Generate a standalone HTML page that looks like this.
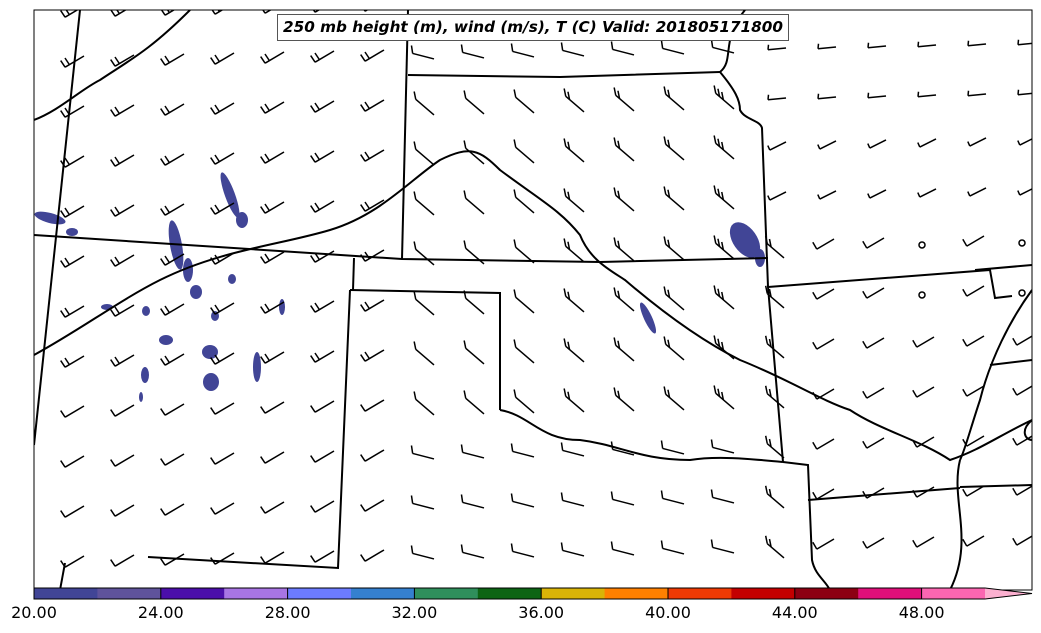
<!DOCTYPE html>
<html><head><meta charset="utf-8"><style>
html,body{margin:0;padding:0;background:#fff;width:1041px;height:633px;overflow:hidden}
svg{display:block}
text{font-family:"DejaVu Sans","Liberation Sans",sans-serif}
</style></head><body>
<svg id="s" width="1041" height="633" xmlns="http://www.w3.org/2000/svg">
<defs><clipPath id="c"><rect x="34" y="10" width="998" height="580"/></clipPath></defs>
<rect x="0" y="0" width="1041" height="633" fill="#fff"/>
<g clip-path="url(#c)" fill="#414596">
<ellipse cx="745" cy="240" rx="12" ry="20" transform="rotate(-35 745 240)"/>
<ellipse cx="760" cy="258" rx="5" ry="9"/>
<ellipse cx="648" cy="318" rx="4" ry="17" transform="rotate(-25 648 318)"/>
<ellipse cx="176" cy="245" rx="6" ry="25" transform="rotate(-10 176 245)"/>
<ellipse cx="188" cy="270" rx="5" ry="12"/>
<ellipse cx="196" cy="292" rx="6" ry="7"/>
<ellipse cx="230" cy="195" rx="5" ry="24" transform="rotate(-20 230 195)"/>
<ellipse cx="242" cy="220" rx="6" ry="8"/>
<ellipse cx="50" cy="218" rx="16" ry="5" transform="rotate(15 50 218)"/>
<ellipse cx="72" cy="232" rx="6" ry="4"/>
<ellipse cx="166" cy="340" rx="7" ry="5"/>
<ellipse cx="146" cy="311" rx="4" ry="5"/>
<ellipse cx="107" cy="307" rx="6" ry="3"/>
<ellipse cx="211" cy="382" rx="8" ry="9"/>
<ellipse cx="210" cy="352" rx="8" ry="7"/>
<ellipse cx="145" cy="375" rx="4" ry="8"/>
<ellipse cx="257" cy="367" rx="4" ry="15"/>
<ellipse cx="282" cy="307" rx="3" ry="8"/>
<ellipse cx="215" cy="316" rx="4" ry="5"/>
<ellipse cx="232" cy="279" rx="4" ry="5"/>
<ellipse cx="141" cy="397" rx="2" ry="5"/>
</g>
<g clip-path="url(#c)" fill="none" stroke="#000" stroke-width="2">
<path d="M80,10 L34,445"/>
<path d="M408,10 L402,259"/>
<path d="M34,235 L402,259 L600,262 L768,258"/>
<path d="M408,75 L560,77 L720,72"/>
<path d="M720,72 C735,90 740,100 740,110 C745,120 760,120 762,128 L768,287 L783,462"/>
<path d="M745,10 C720,40 735,60 720,72"/>
<path d="M768,287 L990,270 L995,298 L1012,296"/>
<path d="M354,258 L353,290"/>
<path d="M350,290 L500,293 L500,410"/>
<path d="M350,290 L338,568 L148,557"/>
<path d="M65,563 L60,590"/>
<path d="M500,410 C530,415 540,440 580,440 C620,445 640,460 690,460 C720,455 760,460 783,462"/>
<path d="M783,462 L808,465 L812,560 C815,575 825,580 830,590"/>
<path d="M808,500 L960,488"/>
<path d="M960,487 L1032,485"/>
<path d="M975,270 L1032,265"/>
<path d="M34,120 C60,110 80,90 100,80 C130,60 150,50 190,10"/>
<path d="M34,355 C80,330 120,300 160,280 C220,250 280,245 330,230 C380,215 410,180 440,160 C470,145 480,150 500,170 C540,200 560,210 580,235 C590,260 610,270 625,280 C660,310 700,340 740,360 C790,380 820,400 850,410 C880,430 920,440 950,460 C980,450 1000,435 1032,420"/>
<path d="M960,460 C950,500 975,540 950,590"/>
<path d="M1032,290 C1010,320 990,360 980,400 C970,430 965,450 960,460"/>
<path d="M1032,360 L990,365"/>
<path d="M1032,420 C1020,430 1025,440 1032,440"/>
</g>
<g id="barbs" clip-path="url(#c)" stroke="#000" stroke-width="1.5" fill="none"></g>
<rect x="34" y="10" width="998" height="580" fill="none" stroke="#000" stroke-width="1"/>
<rect x="277.5" y="14.5" width="511" height="26" fill="#fff" stroke="#555" stroke-width="1"/>
<text x="533" y="32" text-anchor="middle" font-size="15" font-weight="bold" font-style="italic" textLength="500" lengthAdjust="spacingAndGlyphs">250 mb height (m), wind (m/s), T (C) Valid: 201805171800</text>
<g id="cb"></g>
</svg>
<script>
var ns="http://www.w3.org/2000/svg";
function el(p,n,a){var e=document.createElementNS(ns,n);for(var k in a)e.setAttribute(k,a[k]);p.appendChild(e);return e;}
var cb=document.getElementById('cb');
var cols=["#414596","#5f539b","#4b0faa","#a875e4","#6c7bff","#3580cf","#2f8f5c","#0d6414","#d9b407","#ff8000","#ef3a04","#c40000","#8c0012","#e0107a","#fb66b1"];
var w=(985-34)/15;
for(var i=0;i<15;i++)el(cb,'rect',{x:34+i*w,y:588,width:w+0.5,height:11,fill:cols[i]});
el(cb,'polygon',{points:"985,588 1032,593.5 985,599",fill:"#fcb0d0"});
el(cb,'polygon',{points:"34,588 985,588 1032,593.5 985,599 34,599",fill:"none",stroke:"#000","stroke-width":1});
for(var i=0;i<8;i++){var x=34+i*2*w;el(cb,'line',{x1:x,y1:588,x2:x,y2:599,stroke:"#000"});
var t=el(cb,'text',{x:x,y:618,"text-anchor":"middle","font-size":"16","font-family":"Liberation Sans, sans-serif"});t.textContent=(20+i*4).toFixed(2);}
var g=document.getElementById('barbs');
function barb(sx,sy,u,t,n,L){
 var ex=sx+u[0]*L,ey=sy+u[1]*L;
 el(g,'line',{x1:sx,y1:sy,x2:ex,y2:ey});
 for(var k=0;k<n;k++){var bx=ex-u[0]*5*k,by=ey-u[1]*5*k;var tl=(n==1&&L<20)?5:8;
  el(g,'line',{x1:bx,y1:by,x2:bx+t[0]*tl,y2:by+t[1]*tl});}
}
for(var i=0;i<20;i++){for(var j=0;j<12;j++){
 var cx=72+50*i, cy=12+50*j-(cx-70)*0.02;
 if(cx>1032||cy>585)continue;
 if(cx<400){barb(cx+12,cy-6,[-0.86,0.51],[-0.55,-0.83],cy>380?1:2,22);}
 else if(cx<770){
  if(cy<80||cy>430)barb(cx+12,cy+4,[-0.97,-0.25],[-0.15,-0.99],1,22);
  else barb(cx+12,cy+10,[-0.76,-0.65],[-0.2,-0.98],cx<560?1:(cx<680?2:3),24);
 } else {
  if(cy<110)barb(cx+14,cy,[-1,0.1],[0.1,-1],1,18);
  else if(cy<200)barb(cx+14,cy-6,[-0.9,0.45],[-0.4,-0.9],1,18);
  else if(cx<800)barb(cx+12,cy+10,[-0.76,-0.65],[-0.2,-0.98],2,22);
  else if((cx>1000&&cy<300)||(cx>900&&cx<950&&cy>230&&cy<300)){el(g,'circle',{cx:cx,cy:cy,r:3});}
  else barb(cx+12,cy-8,[-0.86,0.51],[-0.5,-0.86],1,20);
 }
}}
</script>
</body></html>
